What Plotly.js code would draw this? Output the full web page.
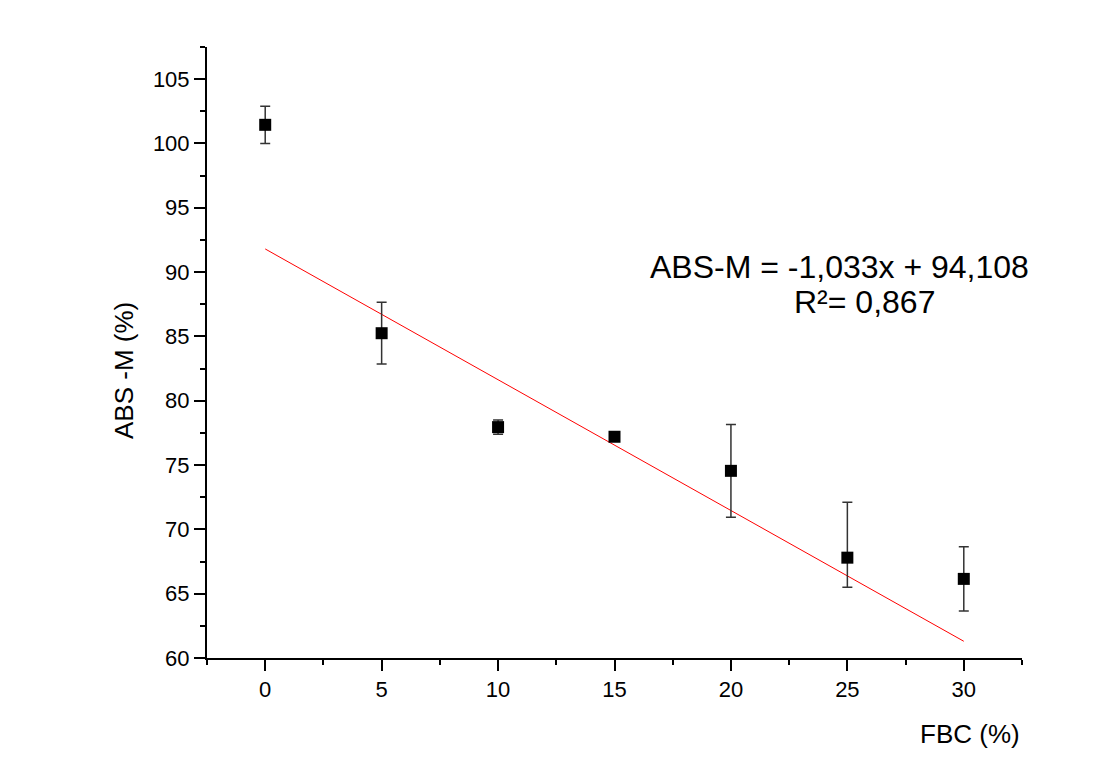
<!DOCTYPE html>
<html>
<head>
<meta charset="utf-8">
<script src="https://cdn.plot.ly/plotly-3.0.1.min.js"></script>
<style>html,body{margin:0;padding:0;background:#fff;}#chart{width:1112px;height:780px;}</style>
</head>
<body>
<div id="chart"></div>
<script>
// Data
const fbc = [0, 5, 10, 15, 20, 25, 30];
const absM = [101.45, 85.25, 77.95, 77.2, 74.55, 67.8, 66.15];
const errPlus = [1.45, 2.4, 0.55, 0.2, 3.6, 4.3, 2.5];
const errMinus = [1.45, 2.4, 0.55, 0.2, 3.6, 2.3, 2.5];
const fitX = [0, 30];
const fitY = [91.8, 61.3];
const eqLine1 = "ABS-M = -1,033x + 94,108";
const eqLine2 = "R²= 0,867";
const xTitle = "FBC (%)";
const yTitle = "ABS -M (%)";

const font = "Liberation Sans, Arial, sans-serif";

const traces = [
  {
    x: fitX, y: fitY, type: "scatter", mode: "lines",
    line: {color: "#ff0000", width: 1}, hoverinfo: "skip", showlegend: false
  },
  {
    x: fbc, y: absM, type: "scatter", mode: "markers",
    marker: {symbol: "square", size: 12, color: "#000"},
    error_y: {type: "data", symmetric: false, array: errPlus, arrayminus: errMinus,
              color: "#333", thickness: 1.5, width: 5},
    showlegend: false
  }
];

const axisCommon = {
  showgrid: false, zeroline: false, showline: true, linecolor: "#000", linewidth: 2,
  ticks: "outside", ticklen: 11, tickwidth: 2, tickcolor: "#000",
  tickfont: {family: font, size: 22, color: "#000"},
  mirror: false
};

const layout = {
  width: 1112, height: 780,
  paper_bgcolor: "#fff", plot_bgcolor: "#fff",
  margin: {l: 207, r: 90, t: 47, b: 122},
  xaxis: Object.assign({}, axisCommon, {
    range: [-2.5, 32.5], tick0: 0, dtick: 5,
    minor: {dtick: 2.5, ticks: "outside", ticklen: 5, tickwidth: 2, tickcolor: "#000"}
  }),
  yaxis: Object.assign({}, axisCommon, {
    range: [60, 107.5], tick0: 60, dtick: 5,
    minor: {dtick: 2.5, ticks: "outside", ticklen: 5, tickwidth: 2, tickcolor: "#000"}
  }),
  annotations: [
    {text: xTitle, xref: "paper", yref: "paper", x: (970 - 207) / 815, y: (780 - 122 - 734) / 611,
     showarrow: false, xanchor: "center", yanchor: "middle", font: {family: font, size: 26, color: "#000"}},
    {text: yTitle, xref: "paper", yref: "paper", x: (124 - 207) / 815, y: (658 - 371) / 611,
     showarrow: false, textangle: -90, xanchor: "center", yanchor: "middle", font: {family: font, size: 26, color: "#000"}},
    {text: eqLine1, xref: "paper", yref: "paper", x: (839 - 207) / 815, y: (658 - 267) / 611,
     showarrow: false, xanchor: "center", yanchor: "middle", font: {family: font, size: 32, color: "#000"}},
    {text: eqLine2, xref: "paper", yref: "paper", x: (864 - 207) / 815, y: (658 - 302) / 611,
     showarrow: false, xanchor: "center", yanchor: "middle", font: {family: font, size: 32, color: "#000"}}
  ]
};

Plotly.newPlot("chart", traces, layout, {displayModeBar: false, staticPlot: true});
</script>
</body>
</html>
